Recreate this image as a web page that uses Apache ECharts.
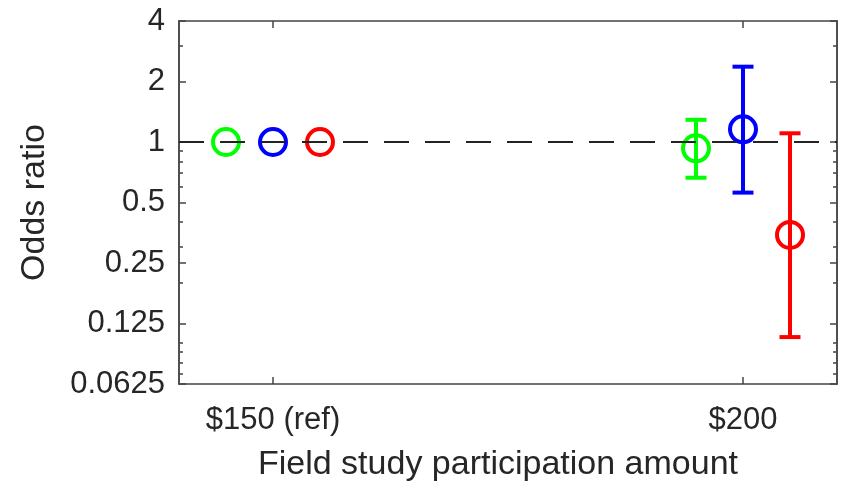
<!DOCTYPE html>
<html>
<head>
<meta charset="utf-8">
<script src="https://cdn.jsdelivr.net/npm/echarts@6.0.0/dist/echarts.min.js"></script>
<style>
html,body{margin:0;padding:0;background:#fff;}
#chart{width:854px;height:491px;}
</style>
</head>
<body>
<div id="chart"></div>
<script>
// categories on the x axis (MATLAB style positions 1 and 2)
var categories = ['$150 (ref)', '$200'];
var catPos = [1, 2];

// odds ratios and 95% CI per group
var greenOR = [1, 0.93];
var greenLo = [null, 0.664];
var greenHi = [null, 1.29];

var blueOR = [1, 1.157];
var blueLo = [null, 0.56];
var blueHi = [null, 2.37];

var redOR = [1, 0.345];
var redLo = [null, 0.107];
var redHi = [null, 1.105];

// y tick labels (log2) and minor ticks (log10 style)
var yTicks = [0.0625, 0.125, 0.25, 0.5, 1, 2, 4];
var yMinorTicks = [0.07, 0.08, 0.09, 0.1, 0.2, 0.3, 0.4, 0.5, 0.6, 0.7, 0.8, 0.9, 1, 2, 3, 4];
var refValue = 1;

var xMin = 0.8, xMax = 2.2;
var axisColor = '#444';
var textColor = '#262626';
var font = 'Liberation Sans, Arial, sans-serif';

var groups = [
	{name: 'green', color: '#00ff00', offset: -0.1, or: greenOR, lo: greenLo, hi: greenHi},
	{name: 'blue', color: '#0000ff', offset: 0, or: blueOR, lo: blueLo, hi: blueHi},
	{name: 'red', color: '#ff0000', offset: 0.1, or: redOR, lo: redLo, hi: redHi}
];

function yAxisBase(pos, len, ticks){
	return {
		type: 'log',
		logBase: 2,
		min: 0.0625,
		max: 4,
		position: pos,
		axisLine: {show: true, lineStyle: {color: axisColor, width: 1.5}},
		axisTick: {show: true, inside: true, length: len, customValues: ticks, lineStyle: {color: axisColor, width: 1.5}},
		axisLabel: {show: false},
		splitLine: {show: false},
		minorSplitLine: {show: false}
	};
}

var yLeft = yAxisBase('left', 7, yTicks);
yLeft.axisLabel = {
	show: true,
	customValues: yTicks,
	color: textColor,
	fontSize: 31,
	fontFamily: font,
	margin: 14,
	formatter: function(v){ return String(v); }
};
yLeft.name = 'Odds ratio';
yLeft.nameLocation = 'middle';
yLeft.nameGap = 127;
yLeft.nameTextStyle = {color: textColor, fontSize: 34, fontFamily: font};

var yAxes = [
	yLeft,
	yAxisBase('left', 4, yMinorTicks),
	yAxisBase('right', 7, yTicks),
	yAxisBase('right', 4, yMinorTicks)
];

var xAxes = [
	{
		type: 'value',
		min: xMin,
		max: xMax,
		position: 'bottom',
		name: 'Field study participation amount',
		nameLocation: 'middle',
		nameGap: 64,
		nameTextStyle: {color: textColor, fontSize: 34, fontFamily: font, padding: [0, 20, 0, 0]},
		axisLine: {show: true, onZero: false, lineStyle: {color: axisColor, width: 1.5}},
		axisTick: {show: true, inside: true, length: 7, customValues: catPos, lineStyle: {color: axisColor, width: 1.5}},
		axisLabel: {
			show: true,
			customValues: catPos,
			color: textColor,
			fontSize: 31,
			fontFamily: font,
			margin: 21,
			formatter: function(v){ return categories[catPos.indexOf(v)]; }
		},
		splitLine: {show: false}
	},
	{
		type: 'value',
		min: xMin,
		max: xMax,
		position: 'top',
		axisLine: {show: true, onZero: false, lineStyle: {color: axisColor, width: 1.5}},
		axisTick: {show: true, inside: true, length: 7, customValues: catPos, lineStyle: {color: axisColor, width: 1.5}},
		axisLabel: {show: false},
		splitLine: {show: false}
	}
];

var series = [];

groups.forEach(function(g){
	var pts = [];
	var bars = [];
	for(var i=0;i<catPos.length;i++){
		var x = catPos[i] + g.offset;
		pts.push([x, g.or[i]]);
		if(g.lo[i] != null){
			bars.push([x, g.lo[i], g.hi[i]]);
		}
	}
	// error bars
	series.push({
		type: 'custom',
		name: g.name + ' ci',
		data: bars,
		z: 3,
		renderItem: function(params, api){
			var top = api.coord([api.value(0), api.value(2)]);
			var bot = api.coord([api.value(0), api.value(1)]);
			var half = 10.5;
			var st = {stroke: g.color, lineWidth: 4};
			return {
				type: 'group',
				children: [
					{type: 'line', shape: {x1: top[0], y1: top[1], x2: bot[0], y2: bot[1]}, style: st},
					{type: 'line', shape: {x1: top[0]-half, y1: top[1], x2: top[0]+half, y2: top[1]}, style: st},
					{type: 'line', shape: {x1: bot[0]-half, y1: bot[1], x2: bot[0]+half, y2: bot[1]}, style: st}
				]
			};
		}
	});
	// point estimates (hollow circles)
	series.push({
		type: 'scatter',
		name: g.name,
		data: pts,
		symbol: 'circle',
		symbolSize: 26,
		z: 2,
		itemStyle: {color: 'none', borderColor: g.color, borderWidth: 4, opacity: 1}
	});
});

// dashed reference line at OR = 1, drawn left to right above the markers
series.push({
	type: 'custom',
	name: 'ref',
	data: [[xMin, xMax, refValue]],
	silent: true,
	z: 10,
	renderItem: function(params, api){
		var a = api.coord([api.value(0), api.value(2)]);
		var b = api.coord([api.value(1), api.value(2)]);
		return {
			type: 'line',
			shape: {x1: a[0], y1: a[1], x2: b[0], y2: b[1]},
			style: {stroke: '#222', lineWidth: 2, lineDash: [25, 16], lineDashOffset: 0}
		};
	}
});

var option = {
	animation: false,
	backgroundColor: '#fff',
	grid: {left: 179, right: 17, top: 21, bottom: 107, containLabel: false, outerBoundsMode: 'none'},
	xAxis: xAxes,
	yAxis: yAxes,
	series: series
};

var myChart = echarts.init(document.getElementById('chart'));
myChart.setOption(option);
</script>
</body>
</html>
